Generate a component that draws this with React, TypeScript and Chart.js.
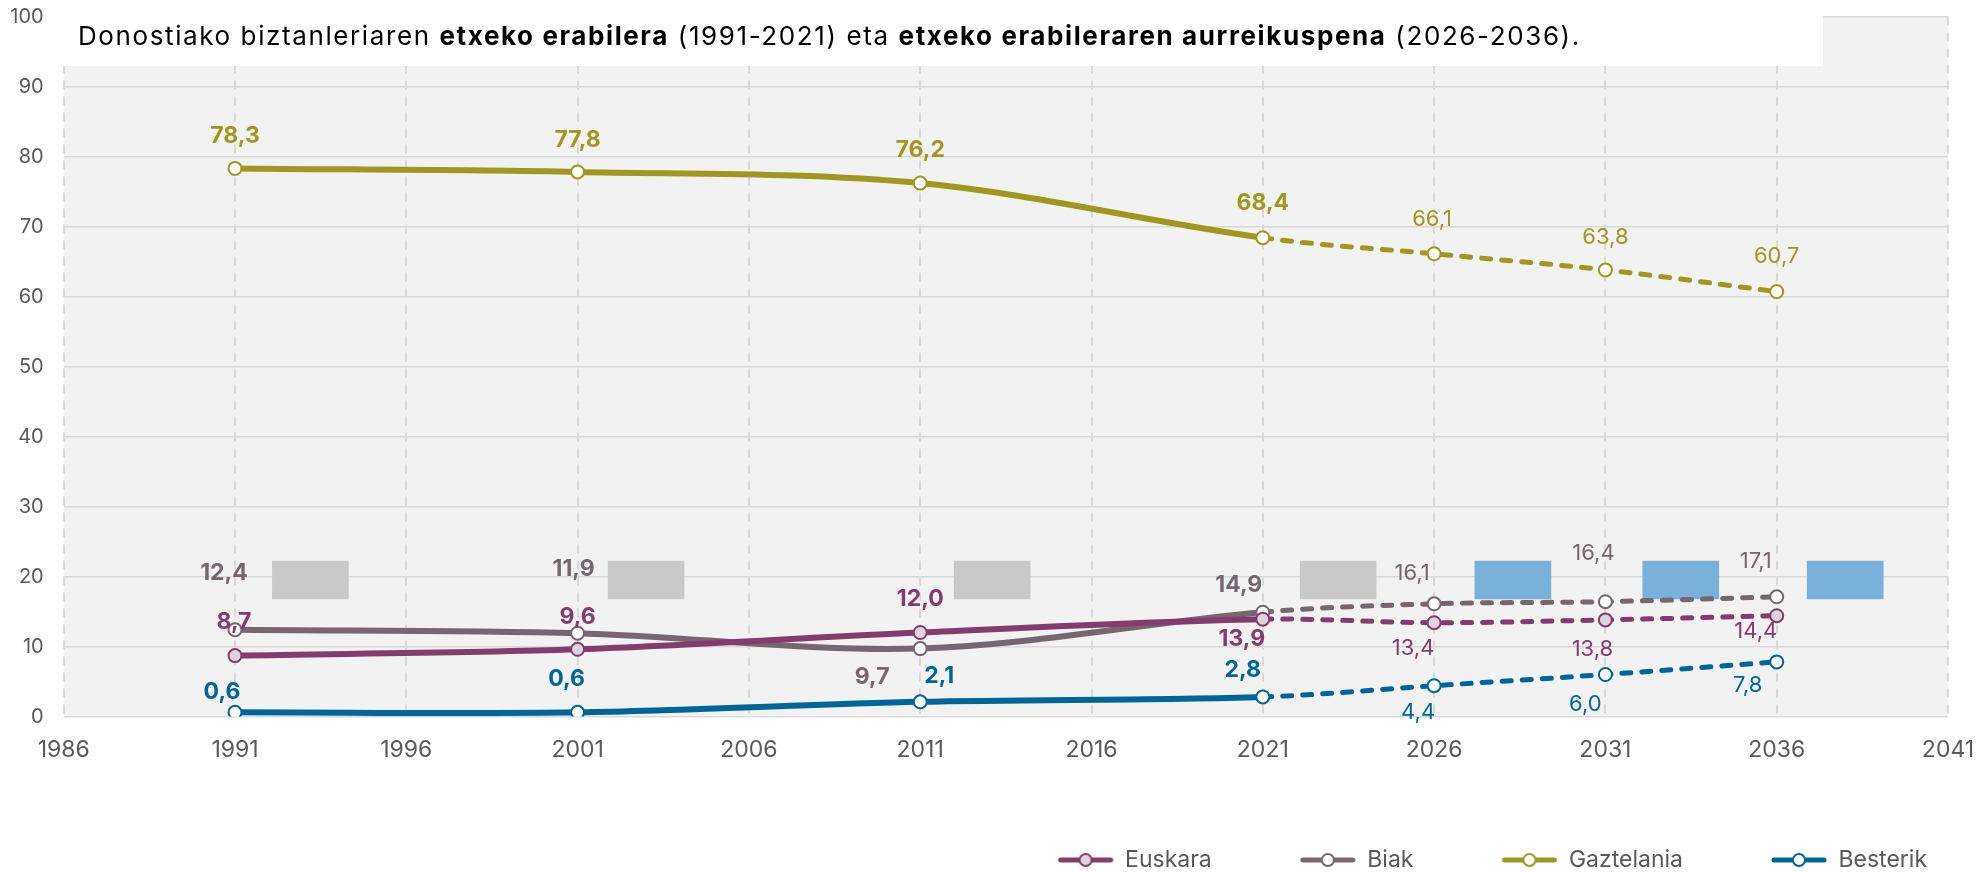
import React, { useEffect, useRef } from 'react';
import { Chart, registerables } from 'chart.js';

Chart.register(...registerables);

// ---------- data ----------
const years = [1991, 2001, 2011, 2021, 2026, 2031, 2036];
const euskara = [8.7, 9.6, 12.0, 13.9, 13.4, 13.8, 14.4];
const biak = [12.4, 11.9, 9.7, 14.9, 16.1, 16.4, 17.1];
const gaztelania = [78.3, 77.8, 76.2, 68.4, 66.1, 63.8, 60.7];
const besterik = [0.6, 0.6, 2.1, 2.8, 4.4, 6.0, 7.8];
const lastObservedYear = 2021;

const xTickYears = [1986, 1991, 1996, 2001, 2006, 2011, 2016, 2021, 2026, 2031, 2036, 2041];
const yTickValues = [0, 10, 20, 30, 40, 50, 60, 70, 80, 90, 100];

// stray rectangles visible in the original picture
const grayBoxYears = [1993.2, 2003.0, 2013.1, 2023.2];
const blueBoxYears = [2028.3, 2033.2, 2038.0];
const boxRange = [16.8, 22.2];

const titleParts: [string, boolean][] = [
  ['Donostiako biztanleriaren ', false],
  ['etxeko erabilera', true],
  [' (1991-2021) eta ', false],
  ['etxeko erabileraren aurreikuspena', true],
  [' (2026-2036).', false],
];

// ---------- styles ----------
const FONT = 'Inter, "Noto Sans", sans-serif';
const series = [
  { name: 'Euskara', values: euskara, color: '#843C6C', fill: '#DDD5DC' },
  { name: 'Biak', values: biak, color: '#75666F', fill: '#FFFFFF' },
  { name: 'Gaztelania', values: gaztelania, color: '#A0981E', fill: '#FFFFFF' },
  { name: 'Besterik', values: besterik, color: '#006699', fill: '#FFFFFF' },
];

// label placement (pixel offsets from each point), per series
const labelOffsets: Record<string, [number, number][]> = {
  Euskara: [[-1, -34], [0, -32], [0, -33], [-21, 20], [-21, 26], [-13, 29], [-21, 16]],
  Biak: [[-11, -57], [-4, -64], [-48, 28], [-24, -27], [-22, -30], [-12, -48], [-21, -35]],
  Gaztelania: [[0, -32], [0, -32], [0, -33], [0, -35], [-2, -34], [0, -33], [0, -35]],
  Besterik: [[-13, -20], [-11, -33], [19, -26], [-20, -27], [-16, 27], [-20, 30], [-29, 23]],
};

const fmt = (v: number) => v.toFixed(1).replace('.', ',');

function legendMarker(color: string, fill: string) {
  const c = document.createElement('canvas');
  c.width = 123;
  c.height = 18;
  const g = c.getContext('2d')!;
  g.strokeStyle = color;
  g.lineWidth = 5;
  g.lineCap = 'round';
  g.beginPath();
  g.moveTo(70, 9);
  g.lineTo(120, 9);
  g.stroke();
  g.beginPath();
  g.arc(95, 9, 6, 0, Math.PI * 2);
  g.fillStyle = fill;
  g.fill();
  g.lineWidth = 2;
  g.stroke();
  return c;
}

const plotBackground = {
  id: 'plotBackground',
  beforeDraw(chart: any) {
    const { ctx, chartArea: a } = chart;
    ctx.save();
    ctx.fillStyle = '#F2F2F2';
    ctx.fillRect(a.left, a.top, a.right - a.left, a.bottom - a.top);
    ctx.restore();
  },
};

const titleBox = {
  id: 'titleBox',
  afterDraw(chart: any) {
    const { ctx, chartArea: a } = chart;
    ctx.save();
    ctx.fillStyle = '#FFFFFF';
    ctx.fillRect(a.left - 4, 0, 1823 - (a.left - 4), 66);
    ctx.fillStyle = '#000000';
    ctx.textBaseline = 'alphabetic';
    ctx.textAlign = 'left';
    const spacing = 1.6;
    (ctx as any).letterSpacing = `${spacing}px`;
    let x = 78;
    for (const [t, bold] of titleParts) {
      ctx.font = `${bold ? 700 : 400} 26px ${FONT}`;
      ctx.fillText(t, x, 45);
      x += ctx.measureText(t).width;
    }
    ctx.restore();
  },
};

const valueLabels = {
  id: 'valueLabels',
  afterDatasetsDraw(chart: any) {
    const ctx = chart.ctx;
    ctx.save();
    ctx.textAlign = 'center';
    ctx.textBaseline = 'middle';
    chart.data.datasets.forEach((ds: any, di: number) => {
      const s = series.find((q) => q.name === ds.label);
      if (!s) return;
      const meta = chart.getDatasetMeta(di);
      meta.data.forEach((pt: any, i: number) => {
        const [dx, dy] = labelOffsets[s.name][i];
        const observed = years[i] <= lastObservedYear;
        ctx.font = `${observed ? 700 : 400} ${observed ? 23 : 22}px ${FONT}`;
        ctx.fillStyle = s.color;
        ctx.fillText(fmt(s.values[i]), pt.x + dx, pt.y + dy);
      });
    });
    ctx.restore();
  },
};

export default function App() {
  const ref = useRef<HTMLCanvasElement | null>(null);

  useEffect(() => {
    if (!ref.current) return;
    const markers = series.map((s) => legendMarker(s.color, s.fill));
    const isDashed = (c: any) => c.p0.parsed.x >= lastObservedYear;

    const lineSets = series.map((s) => ({
      type: 'line' as const,
      label: s.name,
      data: years.map((x, i) => ({ x, y: s.values[i] })),
      borderColor: s.color,
      backgroundColor: s.color,
      borderWidth: 6,
      tension: 0.33,
      pointRadius: 6.5,
      pointHoverRadius: 6.5,
      pointBorderWidth: 2,
      pointBackgroundColor: s.fill,
      pointBorderColor: s.color,
      fill: false,
      order: 1,
      segment: {
        borderDash: (c: any) => (isDashed(c) ? [9, 11] : undefined),
        borderWidth: (c: any) => (isDashed(c) ? 5 : undefined),
        borderCapStyle: (c: any) => (isDashed(c) ? 'round' : undefined),
      },
    }));

    const boxSets = [
      { label: '_gray', xs: grayBoxYears, color: '#C9C9C9' },
      { label: '_blue', xs: blueBoxYears, color: '#7AB1DB' },
    ].map((b) => ({
      type: 'bar' as const,
      label: b.label,
      data: b.xs.map((x) => ({ x, y: boxRange })),
      backgroundColor: b.color,
      borderWidth: 0,
      barThickness: 76,
      grouped: false,
      order: 10,
    }));

    const chart = new Chart(ref.current, {
      type: 'line',
      data: { datasets: [...lineSets, ...boxSets] as any },
      options: {
        responsive: false,
        animation: false,
        events: [],
        layout: { padding: { left: 0, right: 32, top: 16.5, bottom: 0 } },
        scales: {
          x: {
            type: 'linear',
            min: xTickYears[0],
            max: xTickYears[xTickYears.length - 1],
            offset: false,
            afterBuildTicks: (s: any) => {
              s.ticks = xTickYears.map((v) => ({ value: v }));
            },
            afterFit: (s: any) => {
              s.height = 111;
            },
            ticks: {
              autoSkip: false,
              maxRotation: 0,
              padding: 0,
              color: '#595959',
              font: { family: FONT, size: 23 },
              callback: (v: any) => String(v),
            },
            grid: {
              color: '#D9D9D9',
              lineWidth: 2,
              drawTicks: true,
              tickLength: 20,
              tickColor: 'rgba(0,0,0,0)',
              offset: false,
            },
            border: { display: false, dash: [9, 7] },
          },
          y: {
            type: 'linear',
            min: 0,
            max: 100,
            afterBuildTicks: (s: any) => {
              s.ticks = yTickValues.map((v) => ({ value: v }));
            },
            afterFit: (s: any) => {
              s.width = 63.7;
            },
            ticks: {
              padding: 0,
              color: '#595959',
              font: { family: FONT, size: 20 },
            },
            grid: {
              color: '#D9D9D9',
              lineWidth: 1.5,
              drawTicks: true,
              tickLength: 20,
              tickColor: 'rgba(0,0,0,0)',
            },
            border: { display: false },
          },
        },
        plugins: {
          title: { display: false },
          tooltip: { enabled: false },
          legend: {
            display: true,
            position: 'bottom',
            align: 'end',
            fullSize: false,
            maxHeight: 44.5,
            labels: {
              usePointStyle: true,
              pointStyleWidth: 123,
              padding: 21,
              color: '#595959',
              font: { family: FONT, size: 23 },
              generateLabels: () =>
                series.map((s, i) => ({
                  text: s.name,
                  pointStyle: markers[i],
                  datasetIndex: i,
                  hidden: false,
                  fontColor: '#595959',
                  fillStyle: s.color,
                  strokeStyle: s.color,
                  lineWidth: 0,
                })) as any,
            },
          },
        } as any,
      },
      plugins: [plotBackground, valueLabels, titleBox],
    });
    return () => chart.destroy();
  }, []);

  return (
    <div style={{ position: 'fixed', left: 0, top: 0, width: 1980, height: 872, background: '#FFFFFF' }}>
      <canvas ref={ref} width={1980} height={872} style={{ display: 'block' }} />
    </div>
  );
}
